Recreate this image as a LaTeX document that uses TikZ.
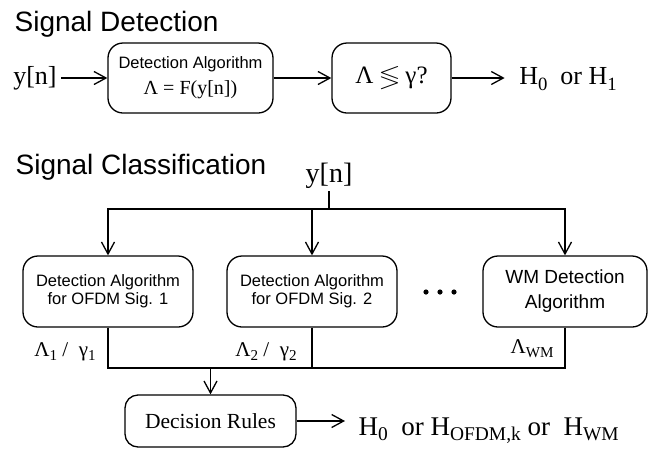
\documentclass[tikz,border=0pt]{standalone}
\usepackage{amssymb}
\usepackage{graphicx}
\usepackage{fontspec}
\setmainfont{Liberation Serif}
\setsansfont{Liberation Sans}
\usetikzlibrary{arrows.meta, positioning, calc}

\newcommand{\lowsub}[1]{\raisebox{-0.2em}{\scalebox{0.72}{#1}}}

\begin{document}
\begin{tikzpicture}[x=1pt, y=-1pt, line width=1.3pt,
    blk/.style={draw, rounded corners=15pt, align=center, inner sep=2pt},
    arr/.style={-{Straight Barb[length=12pt,width=13pt]}},
    head/.style={font=\sffamily\fontsize{28}{30}\selectfont, anchor=base west, inner sep=0pt},
    sig/.style={font=\fontsize{26}{28}\selectfont, inner sep=2pt},
    lbl/.style={font=\fontsize{21}{24}\selectfont, inner sep=0pt}
  ]
  \useasboundingbox (0,0) rectangle (649,451);

  % signal detection
  \node[head] (tdet) at (14,31) {Signal Detection};
  \node[sig, inner xsep=4pt] (yin) at (35,78) {y[n]};
  \node[blk, minimum width=165pt, minimum height=70pt, font=\fontsize{20}{26}\selectfont] (det) at (190.5,78)
    {{\sffamily\fontsize{16.5}{19}\selectfont Detection Algorithm}\\Λ = F(y[n])};
  \node[blk, minimum width=119pt, minimum height=70pt, font=\fontsize{25}{28}\selectfont] (thr) at (391.5,78)
    {Λ $\lessgtr$ γ?};
  \node[sig, inner xsep=14pt] (h01) at (568,79) {H\lowsub{0}\ \ or H\lowsub{1}};

  \draw[arr] (yin) -- (det);
  \draw[arr] (det) -- (thr);
  \draw[arr] (thr.east) -- (thr.east -| h01.west);

  % signal classification
  \node[head] (tcls) at (15,174) {Signal Classification};
  \node[sig, font=\fontsize{28}{30}\selectfont] (yin2) at (329,176) {y[n]};
  \coordinate (fork) at (329,209);

  \node[blk, minimum width=170pt, minimum height=71pt, font=\sffamily\fontsize{16.5}{18}\selectfont] (detA) at (108,291.5)
    {Detection Algorithm\\for OFDM Sig. 1};
  \node[blk, minimum width=170pt, minimum height=71pt, font=\sffamily\fontsize{16.5}{18}\selectfont] (detB) at (312,291.5)
    {Detection Algorithm\\for OFDM Sig. 2};
  \node[blk, minimum width=164pt, minimum height=71pt, font=\sffamily\fontsize{19}{25}\selectfont] (wm) at (565,291.5)
    {WM Detection\\Algorithm};
  \foreach \dx in {426,440,454}
    \fill (\dx,292) circle (2.6pt);

  \draw (yin2) -- (fork);
  \foreach \b in {detA,detB,wm}
    \draw[arr] (fork) -| (\b.north);

  \node[lbl] (la1) at (65,352) {Λ\lowsub{1} /\ \ γ\lowsub{1}};
  \node[lbl] (la2) at (266,352) {Λ\lowsub{2} /\ \ γ\lowsub{2}};
  \node[lbl] (lawm) at (532,349) {Λ\lowsub{WM}};

  \coordinate (join) at (210.5,368);
  \node[blk, rounded corners=13pt, minimum width=171pt, minimum height=52pt, font=\fontsize{21.5}{24}\selectfont] (rules) at (210.5,421)
    {Decision Rules};
  \node[font=\fontsize{27}{29}\selectfont, inner sep=0pt, inner xsep=13pt, anchor=base west] (hout) at (345,435)
    {H\lowsub{0}\ \ or H\lowsub{OFDM,k} or\ \ H\lowsub{WM}};

  \foreach \b in {detA,detB,wm}
    \draw (\b.south) |- (join);
  \draw[arr] (join) -- (rules);
  \draw[arr] (rules.east) -- (rules.east -| hout.west);
\end{tikzpicture}
\end{document}
